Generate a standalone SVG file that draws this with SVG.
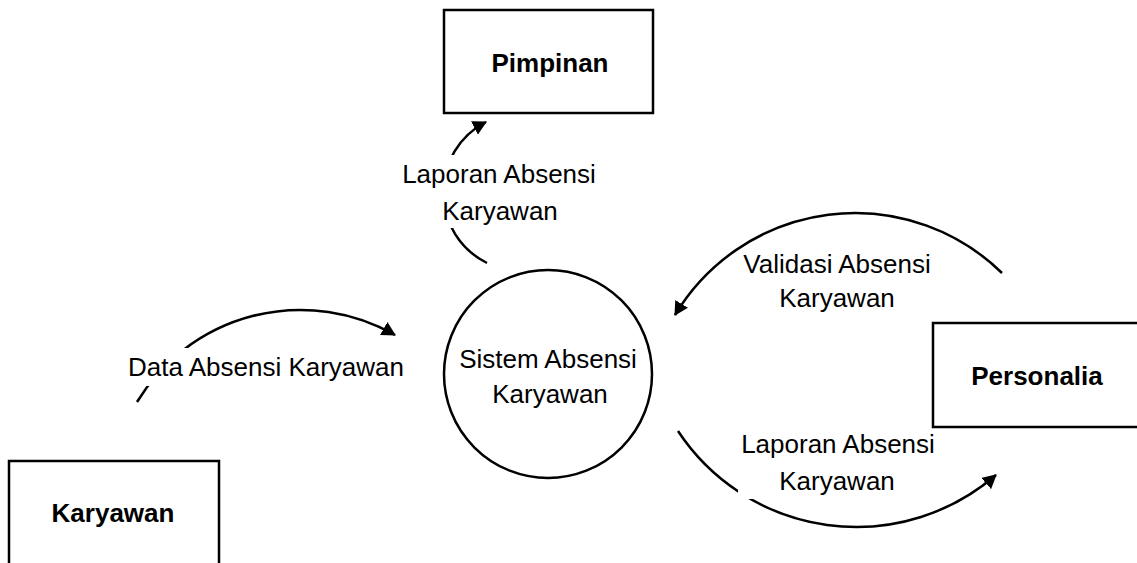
<svg xmlns="http://www.w3.org/2000/svg" width="1137" height="563" viewBox="0 0 1137 563">
<style>
.box{fill:#fff;stroke:#000;stroke-width:2.5}
.flow{fill:none;stroke:#000;stroke-width:2.5;marker-end:url(#ah)}
.lbl{font-family:"Liberation Sans",Arial,sans-serif;font-size:26px;fill:#000;text-anchor:middle}
.ttl{font-family:"Liberation Sans",Arial,sans-serif;font-size:26px;font-weight:bold;fill:#000;text-anchor:middle}
.bg{fill:#fff;stroke:none}
</style>
<defs>
<marker id="ah" viewBox="0 0 14 15" refX="13" refY="7.5" markerWidth="14" markerHeight="15" markerUnits="userSpaceOnUse" orient="auto">
<path d="M0,0 L14,7.5 L0,15 z" fill="#000"/>
</marker>
</defs>
<rect width="1137" height="563" fill="#fff"/>
<g id="connectors">
<path class="flow" d="M137,402 A191,191 0 0 1 395,335"/>
<path class="flow" d="M487,263 A79,79 0 0 1 486,122"/>
<path class="flow" d="M1002,273 A210,210 0 0 0 675,315"/>
<path class="flow" d="M678,431 A213.6,213.6 0 0 0 996,475"/>
<rect class="bg" x="124" y="348" width="286" height="38"/>
<text class="lbl" x="266" y="376">Data Absensi Karyawan</text>
<rect class="bg" x="394" y="155" width="210" height="73"/>
<text class="lbl" x="499" y="183">Laporan Absensi</text>
<text class="lbl" x="500" y="220">Karyawan</text>
<text class="lbl" x="837" y="273">Validasi Absensi</text>
<text class="lbl" x="837" y="307">Karyawan</text>
<rect class="bg" x="738" y="430" width="202" height="69"/>
<text class="lbl" x="838" y="453">Laporan Absensi</text>
<text class="lbl" x="837" y="490">Karyawan</text>
</g>
<g id="pimpinan">
<rect class="box" x="444" y="10" width="209" height="103"/>
<text class="ttl" x="550" y="72">Pimpinan</text>
</g>
<g id="sistem">
<circle class="box" cx="548" cy="374" r="104"/>
<text class="lbl" x="548" y="368">Sistem Absensi</text>
<text class="lbl" x="550" y="403">Karyawan</text>
</g>
<g id="personalia">
<rect class="box" x="933" y="323" width="220" height="104"/>
<text class="ttl" x="1037" y="385">Personalia</text>
</g>
<g id="karyawan">
<rect class="box" x="9" y="461" width="210" height="120"/>
<text class="ttl" x="113" y="522">Karyawan</text>
</g>
</svg>
